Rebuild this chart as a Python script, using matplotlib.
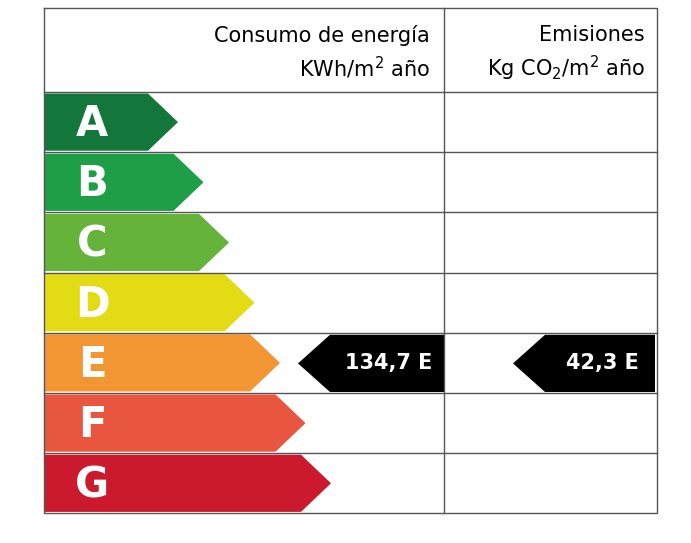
import matplotlib
matplotlib.use("Agg")
import matplotlib.pyplot as plt
from matplotlib.patches import Polygon

letters = ["A", "B", "C", "D", "E", "F", "G"]
colors = ["#13773b", "#1f9e48", "#66b33c", "#e3dc14", "#f29634", "#e8563f", "#cb1a2d"]
consumo_value = "134,7 E"
emision_value = "42,3 E"
rating_index = 4

W, H = 691, 543
fig = plt.figure(figsize=(W / 100, H / 100), dpi=100)
ax = fig.add_axes([0, 0, 1, 1])
ax.set_xlim(0, W)
ax.set_ylim(H, 0)
ax.axis("off")

left, right, mid = 44, 657, 444
top, head_bot, row_h = 8, 92, 60.2
bottom = head_bot + row_h * len(letters)

# grid
lc = "#555555"
ax.plot([left, right, right, left, left], [top, top, bottom, bottom, top], color=lc, lw=1)
ax.plot([mid, mid], [top, bottom], color=lc, lw=1)
for i in range(len(letters)):
    y = head_bot + i * row_h
    ax.plot([left, right], [y, y], color=lc, lw=1)

# header
ax.text(430, 35, "Consumo de energía", ha="right", va="center", fontsize=15)
ax.text(430, 68, "KWh/m$^2$ año", ha="right", va="center", fontsize=15)
ax.text(645, 35, "Emisiones", ha="right", va="center", fontsize=15)
ax.text(645, 68, "Kg CO$_2$/m$^2$ año", ha="right", va="center", fontsize=15)

# arrows
for i, (let, c) in enumerate(zip(letters, colors)):
    y0 = head_bot + i * row_h + 1.5
    y1 = y0 + row_h - 3
    xr = 148 + i * 25.5
    poly = [(left, y0), (xr, y0), (xr + 30, (y0 + y1) / 2), (xr, y1), (left, y1)]
    ax.add_patch(Polygon(poly, closed=True, color=c, lw=0))
    ax.text(92, (y0 + y1) / 2 + 2, let, ha="center", va="center", color="white",
            fontsize=30, fontweight="bold")

# rating tags
def tag(x_tip, x_right, label):
    y0 = head_bot + rating_index * row_h + 2
    y1 = y0 + row_h - 3
    x_l = x_tip + 32
    poly = [(x_tip, (y0 + y1) / 2), (x_l, y0), (x_right, y0), (x_right, y1), (x_l, y1)]
    ax.add_patch(Polygon(poly, closed=True, color="black", lw=0))
    ax.text((x_l + x_right) / 2 + 2, (y0 + y1) / 2, label, ha="center", va="center",
            color="white", fontsize=15, fontweight="bold")

tag(298, 444, consumo_value)
tag(513, 655, emision_value)

fig.savefig("out.png", dpi=100)
